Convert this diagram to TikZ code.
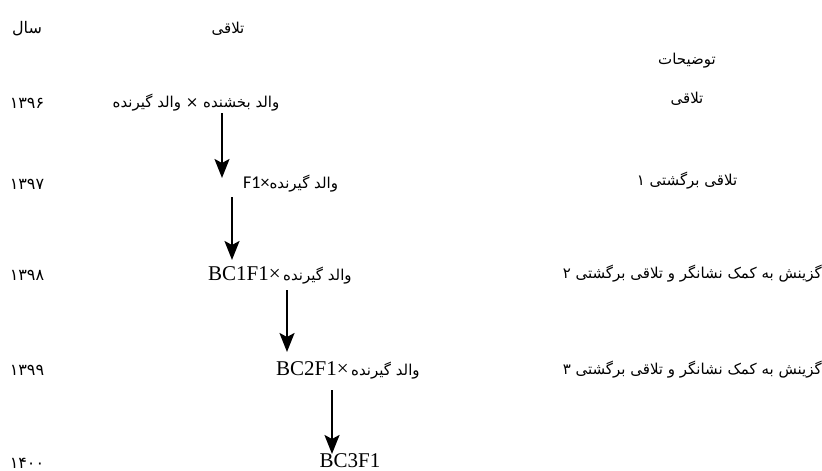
\documentclass[tikz,border=0pt]{standalone}
\usepackage{fontspec}
\setmainfont{Liberation Serif}
\newfontfamily\fa[Script=Arabic]{DejaVu Sans}
\newfontfamily\calfont{Carlito}
\usetikzlibrary{arrows.meta}
\TeXXeTstate=1
\newcommand\yx{27}
\newcommand\dx{687}

\begin{document}
\begin{tikzpicture}[x=1pt, y=-1pt,
    yr/.style={inner sep=0pt, font=\fa\fontsize{16}{18}\selectfont},
    fa/.style={inner sep=0pt, font=\fa\fontsize{15}{18}\selectfont},
    lat/.style={inner sep=0pt, font=\fontsize{21}{24}\selectfont},
    step arrow/.style={line width=2.4pt, -{Stealth[length=19pt, width=15pt, inset=4pt]}}]

    \useasboundingbox (0, 0) rectangle (822, 471);

    % Headers
    \node at (\yx, 29) [yr] (sal) {\beginR سال\endR};
    \node at (228, 29) [fa] (talaghi) {\beginR تلاقی\endR};
    \node at (\dx, 61) [fa] (tozih) {\beginR توضیحات\endR};

    % 1396
    \node at (\yx, 103) [yr] (y1396) {۱۳۹۶};
    \node at (196, 103) [fa] (c1396) {\beginR والد بخشنده × والد گیرنده\endR};
    \node at (\dx, 99) [fa] (d1396) {\beginR تلاقی\endR};

    % 1397
    \node at (\yx, 184) [yr] (y1397) {۱۳۹۷};
    \node at (243, 184) [anchor=west, inner sep=0pt] (c1397)
        {{\calfont\fontsize{18}{20}\selectfont F1×}{\fa\fontsize{15}{18}\selectfont\beginR والد گیرنده\endR}};
    \node at (\dx, 181) [fa] (d1397) {\beginR تلاقی برگشتی ۱\endR};

    % 1398
    \node at (\yx, 275) [yr] (y1398) {۱۳۹۸};
    \node at (208, 275) [anchor=west, inner sep=0pt] (c1398)
        {{\fontsize{21}{24}\selectfont BC1F1×} {\fa\fontsize{15}{18}\selectfont\beginR والد گیرنده\endR}};
    \node at (822, 274) [fa, anchor=east] (d1398) {\beginR گزینش به کمک نشانگر و تلاقی برگشتی ۲\endR};

    % 1399
    \node at (\yx, 370) [yr] (y1399) {۱۳۹۹};
    \node at (276, 370) [anchor=west, inner sep=0pt] (c1399)
        {{\fontsize{21}{24}\selectfont BC2F1×} {\fa\fontsize{15}{18}\selectfont\beginR والد گیرنده\endR}};
    \node at (822, 370) [fa, anchor=east] (d1399) {\beginR گزینش به کمک نشانگر و تلاقی برگشتی ۳\endR};

    % 1400
    \node at (\yx, 463) [yr] (y1400) {۱۴۰۰};
    \node at (350, 461) [lat] (c1400) {BC3F1};

    % Arrows
    \coordinate (a1s) at (222, 113);
    \coordinate (a1e) at (222, 178);
    \coordinate (a2s) at (232, 197);
    \coordinate (a2e) at (232, 260);
    \coordinate (a3s) at (287, 290);
    \coordinate (a3e) at (287, 352);
    \coordinate (a4s) at (332, 390);
    \coordinate (a4e) at (332, 454);

    \draw[step arrow] (a1s) -- (a1e);
    \draw[step arrow] (a2s) -- (a2e);
    \draw[step arrow] (a3s) -- (a3e);
    \draw[step arrow] (a4s) -- (a4e);

\end{tikzpicture}
\end{document}
